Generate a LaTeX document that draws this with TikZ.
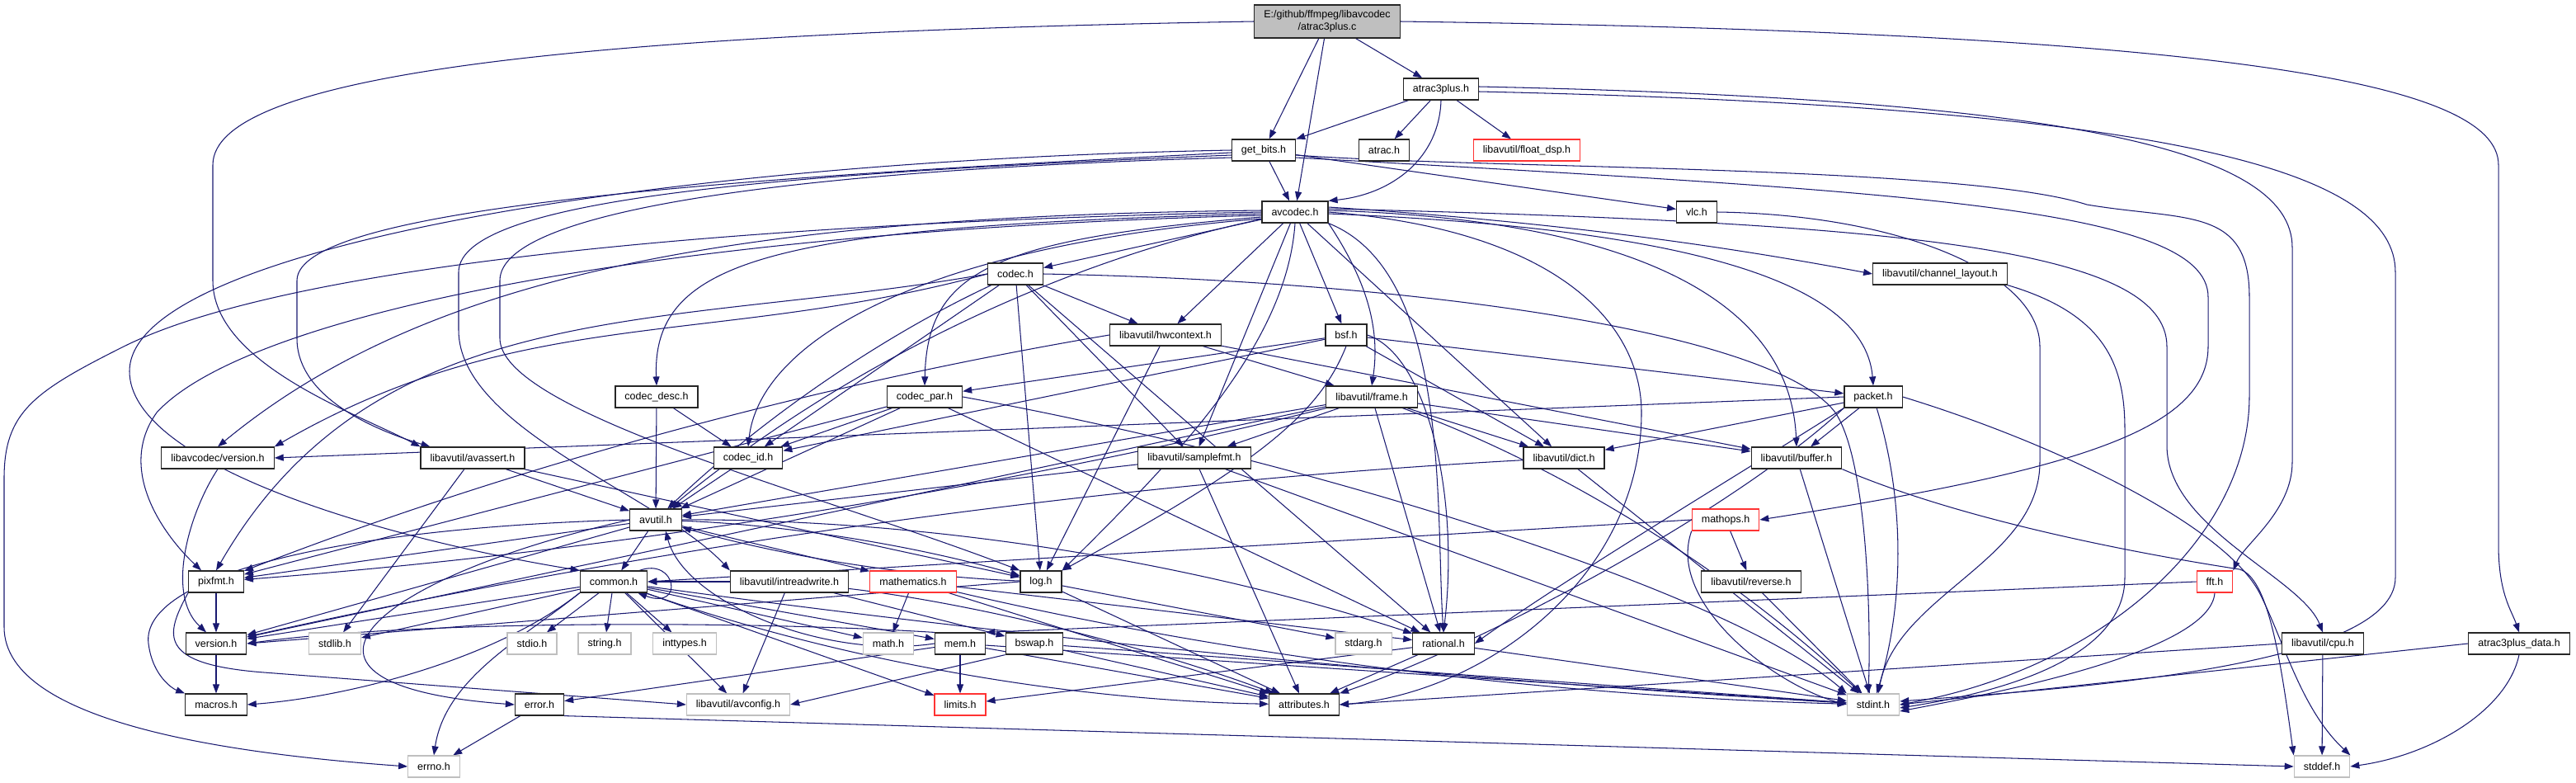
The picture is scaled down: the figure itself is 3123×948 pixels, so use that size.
\documentclass[tikz,border=0pt]{standalone}
\usepackage{fontspec}
\usetikzlibrary{arrows.meta}
\newfontfamily\hfont{Liberation Sans}
\definecolor{edgeblue}{HTML}{191970}
\colorlet{box edge}{black!85}
\colorlet{sys edge}{gray!50}
\colorlet{trunc edge}{red!80}
\pgfdeclarelayer{background}
\pgfsetlayers{background,main}
\tikzset{hdr/.style={draw=box edge, fill=white, line width=1.2pt, minimum height=26pt,
        inner xsep=11.5pt, inner ysep=2pt, font=\hfont\fontsize{12.5}{15}\selectfont},
      sysh/.style={hdr, draw=sys edge},
      trunc/.style={hdr, draw=trunc edge},
      rootbox/.style={hdr, fill=gray!50, align=center, minimum height=40pt},
      inc/.style={draw=edgeblue, line width=1.05pt, -{Triangle[length=11pt,width=8pt]}}}

\begin{document}
\begin{tikzpicture}[x=1pt,y=1pt]
\useasboundingbox (0,0) rectangle (3123,-948);
% headers
\node[rootbox] (root) at (1609,-26) {E:/github/ffmpeg/libavcodec\\/atrac3plus.c};
\node[hdr] (a3h) at (1747,-108) {atrac3plus.h};
\node[hdr] (gb) at (1532,-182) {get\_bits.h};
\node[hdr] (atr) at (1678,-182) {atrac.h};
\node[trunc] (fdsp) at (1851,-182) {libavutil/float\_dsp.h};
\node[hdr] (avc) at (1570,-257) {avcodec.h};
\node[hdr] (vlc) at (2057,-257) {vlc.h};
\node[hdr] (codec) at (1231,-332) {codec.h};
\node[hdr] (chl) at (2352,-332) {libavutil/channel\_layout.h};
\node[hdr] (hwc) at (1413,-406) {libavutil/hwcontext.h};
\node[hdr] (bsf) at (1632,-406) {bsf.h};
\node[hdr] (cdesc) at (796,-481) {codec\_desc.h};
\node[hdr] (cpar) at (1121,-481) {codec\_par.h};
\node[hdr] (frame) at (1663,-481) {libavutil/frame.h};
\node[hdr] (pkt) at (2271,-481) {packet.h};
\node[hdr] (lavcver) at (264,-555) {libavcodec/version.h};
\node[hdr] (avassert) at (573,-555) {libavutil/avassert.h};
\node[hdr] (cid) at (907,-555) {codec\_id.h};
\node[hdr] (sfmt) at (1448,-555) {libavutil/samplefmt.h};
\node[hdr] (dict) at (1896,-555) {libavutil/dict.h};
\node[hdr] (buf) at (2178,-555) {libavutil/buffer.h};
\node[hdr] (avutil) at (795,-630) {avutil.h};
\node[trunc] (mathops) at (2092,-630) {mathops.h};
\node[hdr] (pixfmt) at (262,-705) {pixfmt.h};
\node[hdr] (common) at (744,-705) {common.h};
\node[hdr] (irw) at (957,-705) {libavutil/intreadwrite.h};
\node[trunc] (mathem) at (1107,-705) {mathematics.h};
\node[hdr] (log) at (1262,-705) {log.h};
\node[hdr] (rev) at (2123,-705) {libavutil/reverse.h};
\node[trunc] (fft) at (2685,-705) {fft.h};
\node[hdr] (ver) at (262,-780) {version.h};
\node[sysh] (stdlib) at (406,-780) {stdlib.h};
\node[sysh] (stdio) at (645,-780) {stdio.h};
\node[sysh] (string) at (733,-780) {string.h};
\node[sysh] (inttypes) at (830,-780) {inttypes.h};
\node[sysh] (math) at (1077,-780) {math.h};
\node[hdr] (mem) at (1164,-780) {mem.h};
\node[hdr] (bswap) at (1254,-780) {bswap.h};
\node[sysh] (stdarg) at (1653,-780) {stdarg.h};
\node[hdr] (rat) at (1750,-780) {rational.h};
\node[hdr] (cpu) at (2816,-780) {libavutil/cpu.h};
\node[hdr] (a3data) at (3054,-780) {atrac3plus\_data.h};
\node[hdr] (macros) at (262,-854) {macros.h};
\node[hdr] (error) at (654,-854) {error.h};
\node[sysh] (avconfig) at (895,-854) {libavutil/avconfig.h};
\node[trunc] (limits) at (1164,-854) {limits.h};
\node[hdr] (attr) at (1581,-854) {attributes.h};
\node[sysh] (stdint) at (2271,-854) {stdint.h};
\node[sysh] (errno) at (526,-929) {errno.h};
\node[sysh] (stddef) at (2815,-929) {stddef.h};

\begin{pgfonlayer}{background}
% atrac3plus.c
\draw[inc] (root.west) .. controls (700,-40) and (258,-90) .. (258,-200) -- (258,-340) .. controls (258,-440) and (430,-500) .. (avassert.north west);
\draw[inc] (root) -- (gb);
\draw[inc] (root) -- (avc);
\draw[inc] (root) -- (a3h);
\draw[inc] (root.east) .. controls (2700,-40) and (3029,-100) .. (3029,-200) -- (3029,-660) .. controls (3029,-720) and (3045,-740) .. (a3data.north);
% atrac3plus.h
\draw[inc] (a3h) -- (gb);
\draw[inc] (a3h) -- (atr);
\draw[inc] (a3h) -- (fdsp);
\draw[inc] (a3h.south) .. controls (1745,-190) and (1690,-235) .. (avc.north east);
\draw[inc] ([yshift=3pt]a3h.east) .. controls (2500,-120) and (2779,-180) .. (2779,-300) -- (2779,-560) .. controls (2779,-620) and (2720,-660) .. (fft.north east);
\draw[inc] ([yshift=-3pt]a3h.east) .. controls (2650,-130) and (2904,-210) .. (2904,-330) -- (2904,-700) .. controls (2904,-810) and (2500,-835) .. ([yshift=4pt]stdint.east);
% get_bits.h
\draw[inc] (gb) -- (avc);
\draw[inc] (gb) -- (vlc);
\draw[inc] ([yshift=-6pt]gb.east) .. controls (1800,-205) and (2380,-200) .. (2530,-248) .. controls (2650,-268) and (2727,-250) .. (2727,-360) -- (2727,-480) .. controls (2727,-650) and (2550,-810) .. (stdint.east);
\draw[inc] ([yshift=-9pt]gb.east) .. controls (2300,-232) and (2677,-250) .. (2677,-360) -- (2677,-420) .. controls (2677,-520) and (2520,-570) .. (mathops.east);
\draw[inc] (gb.west) .. controls (800,-195) and (157,-300) .. (157,-450) .. controls (157,-560) and (450,-650) .. (common.north west);
\draw[inc] ([yshift=-3pt]gb.west) .. controls (900,-215) and (360,-250) .. (360,-340) -- (360,-410) .. controls (360,-480) and (450,-520) .. ([xshift=12pt]avassert.north west);
\draw[inc] ([yshift=-6pt]gb.west) .. controls (950,-210) and (556,-240) .. (556,-330) -- (556,-400) .. controls (556,-520) and (800,-600) .. (irw.north west);
\draw[inc] ([yshift=-9pt]gb.west) .. controls (1000,-205) and (606,-250) .. (606,-340) -- (606,-410) .. controls (606,-500) and (1000,-600) .. (log.north west);
% avcodec.h
\draw[inc] (avc.west) .. controls (900,-270) and (350,-320) .. (150,-420) .. controls (40,-475) and (5,-500) .. (5,-580) -- (5,-760) .. controls (5,-880) and (300,-915) .. (errno.west);
\draw[inc] (avc) -- (sfmt);
\draw[inc] (avc.east) .. controls (1900,-280) and (1990,-400) .. (1990,-500) .. controls (1990,-700) and (1800,-840) .. (attr.east);
\draw[inc] (avc) .. controls (1282,-318) and (1023,-443) .. (avutil);
\draw[inc] ([yshift=2pt]avc.east) .. controls (1950,-265) and (2170,-350) .. (buf.north);
\draw[inc] ([yshift=4pt]avc.east) .. controls (2300,-270) and (2627,-300) .. (2627,-420) -- (2627,-540) .. controls (2627,-640) and (2790,-700) .. (cpu.north);
\draw[inc] ([yshift=6pt]avc.east) .. controls (1900,-270) and (2100,-300) .. (chl.west);
\draw[inc] (avc) -- (dict);
\draw[inc] (avc.south east) .. controls (1650,-330) and (1675,-390) .. (frame.north);
\draw[inc] (avc) -- (hwc);
\draw[inc] (avc.south) .. controls (1560,-420) and (1420,-560) .. (log.north east);
\draw[inc] ([yshift=-4pt]avc.west) .. controls (800,-280) and (300,-380) .. (190,-500) .. controls (140,-570) and (200,-650) .. ([xshift=-18pt]pixfmt.north);
\draw[inc] (avc.south east) .. controls (1760,-330) and (1740,-620) .. (rat.north);
\draw[inc] (avc) -- (bsf);
\draw[inc] (avc) -- (codec);
\draw[inc] ([yshift=-2pt]avc.west) .. controls (950,-275) and (790,-310) .. (cdesc.north);
\draw[inc] ([yshift=-6pt]avc.west) .. controls (1200,-290) and (1124,-330) .. (cpar.north);
\draw[inc] ([yshift=-8pt]avc.west) .. controls (1100,-300) and (920,-420) .. (cid.north);
\draw[inc] ([yshift=-2pt]avc.east) .. controls (2000,-275) and (2260,-330) .. (pkt.north);
\draw[inc] ([yshift=2pt]avc.west) .. controls (900,-262) and (520,-330) .. (lavcver.north);
% codec.h
\draw[inc] (codec.east) .. controls (1700,-340) and (2150,-400) .. (2225,-500) .. controls (2265,-560) and (2268,-760) .. ([xshift=-6pt]stdint.north);
\draw[inc] (codec) .. controls (1070,-407) and (924,-507) .. (avutil);
\draw[inc] (codec) -- (hwc);
\draw[inc] (codec) -- (log);
\draw[inc] (codec.west) to[out=190,in=60] (pixfmt.north);
\draw[inc] (codec) -- (rat);
\draw[inc] (codec) -- (sfmt);
\draw[inc] (codec) -- (cid);
\draw[inc] (codec.west) to[out=195,in=30] (lavcver.north east);
% codec_desc.h, codec_par.h, codec_id.h
\draw[inc] (cdesc) -- (avutil);
\draw[inc] (cdesc) -- (cid);
\draw[inc] (cpar.east) .. controls (1600,-560) and (2100,-720) .. (stdint.north west);
\draw[inc] (cpar) -- (avutil);
\draw[inc] (cpar) -- (rat);
\draw[inc] (cpar) -- (pixfmt);
\draw[inc] (cpar) -- (cid);
\draw[inc] (cid) -- (avutil);
% bsf.h
\draw[inc] (bsf) -- (dict);
\draw[inc] (bsf.south) .. controls (1600,-500) and (1530,-560) .. (log.north east);
\draw[inc] (bsf.east) .. controls (1730,-430) and (1770,-600) .. (rat.north);
\draw[inc] (bsf) -- (cid);
\draw[inc] (bsf) -- (cpar);
\draw[inc] (bsf) -- (pkt);
% packet.h
\draw[inc] (pkt.east) .. controls (2500,-540) and (2700,-640) .. (2740,-720) .. controls (2770,-780) and (2790,-860) .. (stddef.north east);
\draw[inc] (pkt) .. controls (2309,-605) and (2309,-730) .. (stdint);
\draw[inc] (pkt.south west) .. controls (2100,-620) and (1800,-780) .. (attr.north east);
\draw[inc] (pkt) -- (buf);
\draw[inc] (pkt) -- (dict);
\draw[inc] (pkt.south west) .. controls (2100,-580) and (1900,-700) .. (rat.east);
\draw[inc] (pkt.west) -- (lavcver.east);
\draw[inc] (lavcver.south) .. controls (230,-620) and (200,-720) .. ([xshift=-12pt]ver.north);
% hwcontext.h, frame.h
\draw[inc] (hwc) -- (buf);
\draw[inc] (hwc) -- (frame);
\draw[inc] (hwc) -- (log);
\draw[inc] (hwc.west) .. controls (973,-469) and (613,-569) .. (pixfmt);
\draw[inc] (frame) .. controls (1891,-564) and (2093,-689) .. (stdint);
\draw[inc] (frame) -- (avutil);
\draw[inc] (frame) -- (buf);
\draw[inc] (frame) -- (dict);
\draw[inc] (frame) -- (rat);
\draw[inc] (frame) -- (sfmt);
\draw[inc] (frame) .. controls (1202,-595) and (735,-669) .. (pixfmt);
\draw[inc] (frame) -- (ver);
% samplefmt.h, dict.h, buffer.h, channel_layout.h
\draw[inc] (sfmt) -- (stdint);
\draw[inc] (sfmt) -- (avutil);
\draw[inc] (sfmt) -- (attr);
\draw[inc] (dict) -- (stdint);
\draw[inc] (dict) .. controls (1345,-585) and (801,-660) .. (ver);
\draw[inc] (buf) -- (stdint);
\draw[inc] (buf.south east) .. controls (2400,-640) and (2650,-680) .. (2715,-690) .. controls (2750,-700) and (2765,-800) .. (stddef.north west);
\draw[inc] (chl.south east) .. controls (2550,-380) and (2576,-440) .. (2576,-520) -- (2576,-700) .. controls (2576,-800) and (2420,-840) .. ([yshift=-4pt]stdint.east);
% avassert.h
\draw[inc] (avassert) -- (stdlib);
\draw[inc] (avassert) -- (avutil);
\draw[inc] (avassert) -- (log);
% avutil.h
\draw[inc] (avutil) -- (common);
\draw[inc] (avutil.west) .. controls (450,-700) and (300,-830) .. (error.west);
\draw[inc] (avutil) .. controls (1121,-629) and (1440,-679) .. (rat);
\draw[inc] (avutil) -- (ver);
\draw[inc] (avutil.west) .. controls (400,-640) and (170,-700) .. (180,-780) .. controls (185,-820) and (210,-835) .. (macros.north west);
\draw[inc] (avutil) -- (mathem);
\draw[inc] (avutil) .. controls (954,-636) and (1109,-661) .. (log);
\draw[inc] (avutil) -- (pixfmt);
% common.h
\draw[inc] (common.south west) .. controls (640,-770) and (540,-820) .. (errno.north);
\draw[inc] (common) -- (inttypes);
\draw[inc] (common) -- (limits);
\draw[inc] (common) -- (math);
\draw[inc] (common) .. controls (1252,-775) and (1761,-824) .. (stdint);
\draw[inc] (common) -- (stdio);
\draw[inc] (common) -- (stdlib);
\draw[inc] (common) -- (string);
\draw[inc] (common) .. controls (1015,-800) and (1294,-849) .. (attr);
\draw[inc] (common.south west) .. controls (600,-800) and (420,-845) .. (macros.east);
\draw[inc] (common) -- (mem);
\draw[inc] (common) -- (ver);
\draw[inc] (common) -- (avconfig);
\draw[inc] ([xshift=-10pt]common.north east) .. controls (820,-675) and (830,-740) .. ([xshift=-12pt]common.south east);
% intreadwrite.h, mathematics.h, log.h
\draw[inc] (irw) -- (avconfig);
\draw[inc] (irw) .. controls (1171,-730) and (1379,-779) .. (attr);
\draw[inc] (irw) -- (bswap);
\draw[inc] (irw) -- (common);
\draw[inc] (mathem) -- (attr);
\draw[inc] (mathem) -- (math);
\draw[inc] (mathem) .. controls (1490,-795) and (1878,-844) .. (stdint);
\draw[inc] (mathem) -- (rat);
\draw[inc] (log) -- (stdarg);
\draw[inc] (log) -- (attr);
\draw[inc] (log) .. controls (1103,-699) and (948,-674) .. (avutil);
\draw[inc] (log.west) -- (ver.east);
% mem.h, bswap.h, rational.h, error.h
\draw[inc] (mem) -- (limits);
\draw[inc] (mem) -- (attr);
\draw[inc] (mem.west) .. controls (1000,-800) and (830,-730) .. ([xshift=12pt]avutil.south);
\draw[inc] (mem) -- (error);
\draw[inc] (mem) -- (stdint);
\draw[inc] (mem.north west) .. controls (900,-752) and (500,-752) .. (ver.east);
\draw[inc] (bswap.south west) -- (avconfig.east);
\draw[inc] (bswap) -- (attr);
\draw[inc] (bswap) -- (stdint);
\draw[inc] (rat) -- (limits);
\draw[inc] (rat) -- (attr);
\draw[inc] (rat) -- (stdint);
\draw[inc] (error) -- (errno);
\draw[inc] (error.south east) -- (stddef.west);
% pixfmt.h, version.h
\draw[inc] (pixfmt) -- (ver);
\draw[inc] (pixfmt.south west) .. controls (200,-770) and (190,-805) .. (320,-815) -- (avconfig.west);
\draw[inc] (ver) -- (macros);
% mathops.h and the rest
\draw[inc] (mathops) -- (rev);
\draw[inc] (mathops.south west) .. controls (2020,-730) and (2150,-830) .. (stdint.west);
\draw[inc] (mathops.west) -- (common.east);
\draw[inc] (rev) -- (stdint);
\draw[inc] (fft.west) -- (mem.north east);
\draw[inc] (fft.south) .. controls (2680,-790) and (2420,-840) .. ([yshift=-8pt]stdint.east);
\draw[inc] (cpu) -- (stddef);
\draw[inc] (cpu.west) -- (attr.east);
\draw[inc] (a3data.south) .. controls (3040,-860) and (2950,-915) .. (stddef.east);
\draw[inc] (a3data.west) -- (stdint.east);
\draw[inc] (vlc.east) .. controls (2300,-260) and (2473,-330) .. (2473,-420) -- (2473,-560) .. controls (2473,-680) and (2300,-720) .. ([xshift=6pt]stdint.north);
\end{pgfonlayer}
\end{tikzpicture}
\end{document}
